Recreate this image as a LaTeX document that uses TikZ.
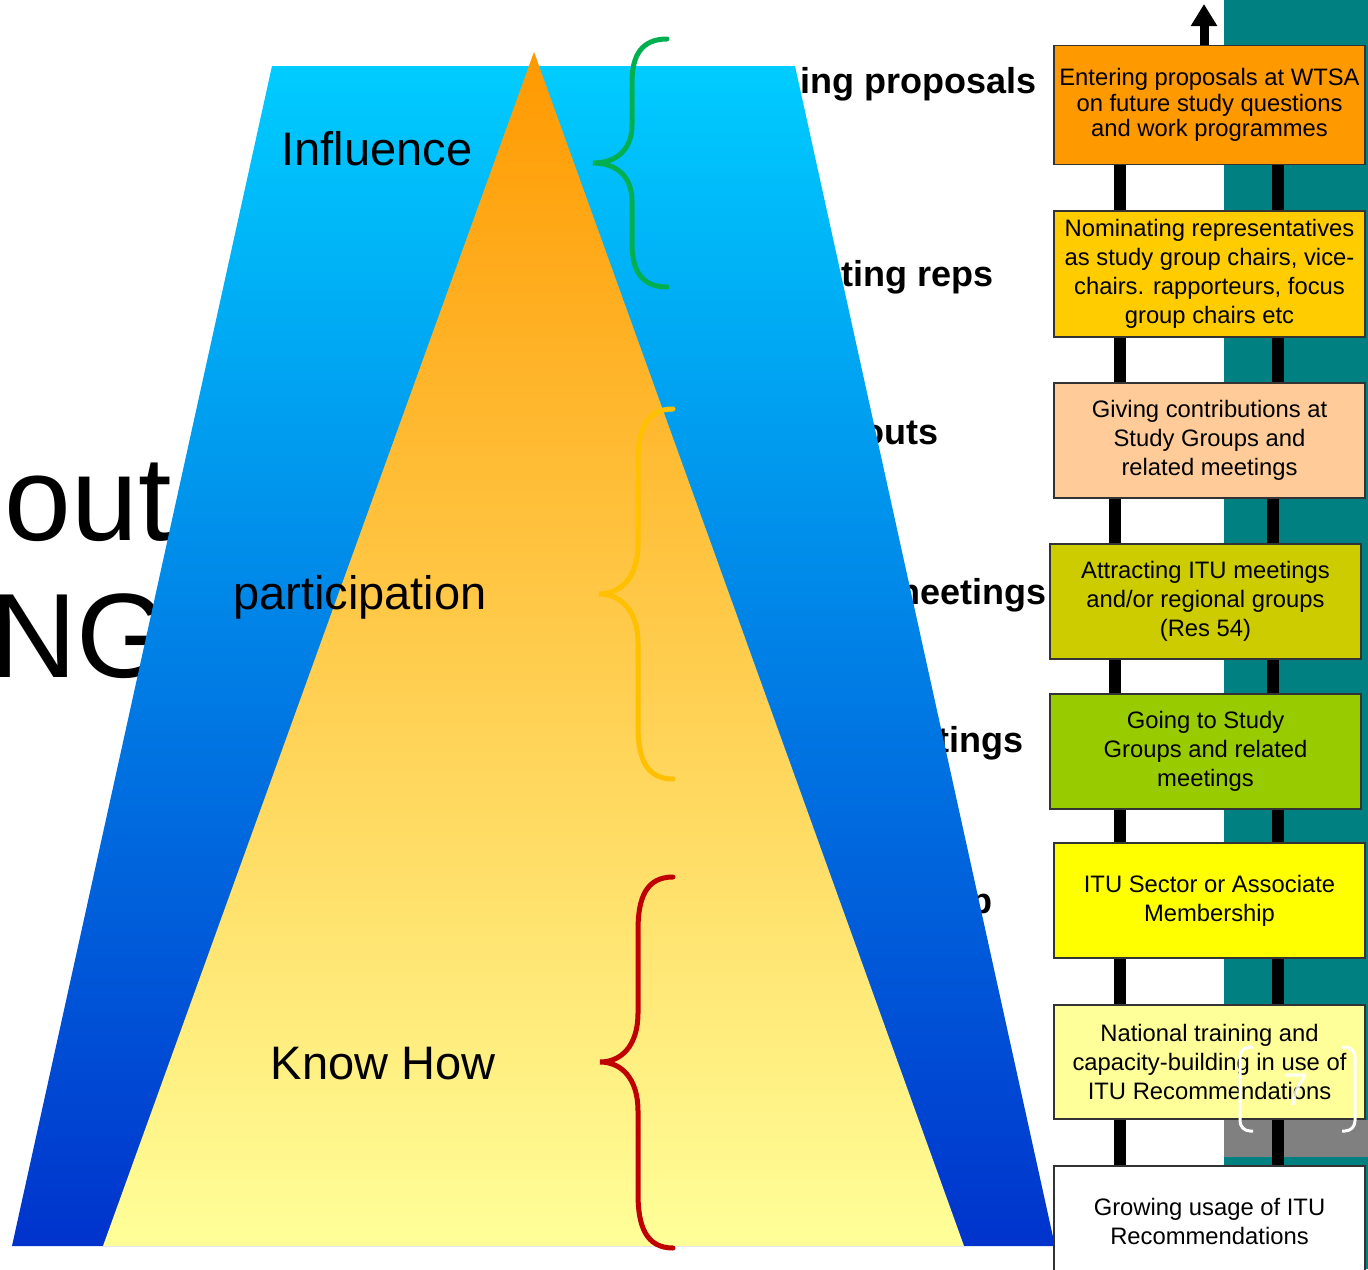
\documentclass[tikz,border=0pt]{standalone}
\usepackage{fontspec}
\setmainfont{Liberation Sans}
\usetikzlibrary{arrows.meta}

\definecolor{itucyan}{HTML}{00CCFF}
\definecolor{itublue}{HTML}{0033CC}
\definecolor{ituorange}{HTML}{FF9900}
\definecolor{itucream}{HTML}{FFFF99}
\definecolor{itugold}{HTML}{FFCC00}
\definecolor{itupeach}{HTML}{FFCC99}
\definecolor{ituolive}{HTML}{CCCC00}
\definecolor{itugreen}{HTML}{99CC00}
\definecolor{ituyellow}{HTML}{FFFF00}
\definecolor{ituteal}{HTML}{008080}
\definecolor{bracegreen}{HTML}{00B050}
\definecolor{braceyellow}{HTML}{FFC000}
\definecolor{bracered}{HTML}{C00000}

\tikzset{
  stagebox/.style={draw=black!80, line width=1.5pt, minimum width=311pt,
    align=center, inner sep=0pt, font=\fontsize{23.8}{29}\selectfont},
  ladder/.style={line width=12pt, black},
  cutword/.style={font=\fontsize{36}{40}\selectfont\bfseries, anchor=base east, inner sep=0pt},
  bigword/.style={font=\fontsize{120}{130}\selectfont, anchor=base west, inner sep=0pt},
  stagelabel/.style={font=\fontsize{47}{50}\selectfont, anchor=base, inner sep=0pt},
  bracepath/.style={line width=5pt, line cap=round},
}

\begin{document}
\begin{tikzpicture}[x=1pt,y=-1pt]
  \useasboundingbox (0,0) rectangle (1368,1269);
  %\draw[step=100pt,gray,very thin] (0,0) grid (1368,1269);

  %words behind the pyramid
  \node[bigword] (about) at (-62,540) {bout};
  \node[bigword] (ing) at (-10,677) {NG};
  \node[cutword] (proposals) at (1037,93) {ing proposals};
  \node[cutword] (reps) at (994,286) {ting reps};
  \node[cutword] (inputs) at (939,444) {outs};
  \node[cutword] (meetings) at (1047,604) {neetings};
  \node[cutword] (attending) at (1024,752) {tings};
  \node[cutword] (member) at (993,913) {p};

  %pyramid
  \shade[top color=itucyan, bottom color=itublue] (272,66) -- (795,66) -- (1055,1246) -- (12,1246) -- cycle;
  \shade[top color=ituorange, bottom color=itucream] (534,52) -- (964,1246) -- (103,1246) -- cycle;

  \node[stagelabel] (influence) at (377,165) {Influence};
  \node[stagelabel] (participation) at (360,609) {participation};
  \node[stagelabel] (knowhow) at (383,1079) {Know How};

  %braces
  \draw[bracepath, bracegreen] (667,39) .. controls (642,39) and (632,55) .. (632,82) -- (632,125)
    .. controls (632,150) and (616,163) .. (593,163) .. controls (616,163) and (632,176) .. (632,201)
    -- (632,244) .. controls (632,271) and (642,287) .. (667,287);
  \draw[bracepath, braceyellow] (673,409) .. controls (646,409) and (638,430) .. (638,462) -- (638,545)
    .. controls (638,578) and (620,594) .. (599,594) .. controls (620,594) and (638,610) .. (638,643)
    -- (638,726) .. controls (638,758) and (646,779) .. (673,779);
  \draw[bracepath, bracered] (673,877) .. controls (646,877) and (638,898) .. (638,930) -- (638,1013)
    .. controls (638,1046) and (621,1062) .. (600,1062) .. controls (621,1062) and (638,1078) .. (638,1111)
    -- (638,1194) .. controls (638,1226) and (646,1248) .. (673,1248);

  %ladder background
  \fill[ituteal] (1224,0) rectangle (1368,1269);
  \fill[gray] (1224,1120) rectangle (1368,1157);

  %stages
  \node[stagebox, fill=ituorange, minimum height=119pt, font=\fontsize{23.8}{25.5}\selectfont] (entering) at (1209.5,105)
    {Entering proposals at WTSA\\ on future study questions\\ and work programmes};
  \node[stagebox, fill=itugold, minimum height=126pt] (nominating) at (1209.5,274)
    {Nominating representatives\\ as study group chairs, vice-\\ chairs. rapporteurs, focus\\ group chairs etc};
  \node[stagebox, fill=itupeach, minimum height=115pt] (giving) at (1209.5,440.5)
    {Giving contributions at\\ Study Groups and\\ related meetings};
  \node[stagebox, fill=ituolive, minimum height=115pt] (attracting) at (1205.5,601.5)
    {Attracting ITU meetings\\ and/or regional groups\\ (Res 54)};
  \node[stagebox, fill=itugreen, minimum height=115pt] (going) at (1205.5,751.5)
    {Going to Study\\ Groups and related\\ meetings};
  \node[stagebox, fill=ituyellow, minimum height=115pt] (membership) at (1209.5,900.5)
    {ITU Sector or Associate\\ Membership};
  \node[stagebox, fill=itucream, minimum height=114pt] (training) at (1209.5,1062)
    {National training and\\ capacity-building in use of\\ ITU Recommendations};
  \node[stagebox, fill=white, minimum height=110pt] (usage) at (1209.5,1221)
    {Growing usage of ITU\\ Recommendations};

  %rails
  \coordinate (lx) at (1120,0);
  \coordinate (rx) at (1278,0);
  \coordinate (lxs) at (1115,0);
  \coordinate (rxs) at (1273,0);
  \coordinate (arrowtip) at (1204,4);
  \draw[ladder] (entering.south -| lx) -- (nominating.north -| lx);
  \draw[ladder] (entering.south -| rx) -- (nominating.north -| rx);
  \draw[ladder] (nominating.south -| lx) -- (giving.north -| lx);
  \draw[ladder] (nominating.south -| rx) -- (giving.north -| rx);
  \draw[ladder] (giving.south -| lxs) -- (attracting.north -| lxs);
  \draw[ladder] (giving.south -| rxs) -- (attracting.north -| rxs);
  \draw[ladder] (attracting.south -| lxs) -- (going.north -| lxs);
  \draw[ladder] (attracting.south -| rxs) -- (going.north -| rxs);
  \draw[ladder] (going.south -| lx) -- (membership.north -| lx);
  \draw[ladder] (going.south -| rx) -- (membership.north -| rx);
  \draw[ladder] (membership.south -| lx) -- (training.north -| lx);
  \draw[ladder] (membership.south -| rx) -- (training.north -| rx);
  \draw[ladder] (training.south -| lx) -- (usage.north -| lx);
  \draw[ladder] (training.south -| rx) -- (usage.north -| rx);
  \draw[line width=9pt, -{Triangle[width=25pt,length=22pt]}] (entering.north -| arrowtip) -- (arrowtip);

  %slide number
  \draw[white, line width=3pt, rounded corners=10pt] (1253,1047) -- (1240,1047) -- (1240,1131) -- (1253,1131);
  \draw[white, line width=3pt, rounded corners=10pt] (1342,1047) -- (1355,1047) -- (1355,1131) -- (1342,1131);
  \node[white, opacity=0.85, font=\fontsize{46}{46}\selectfont, inner sep=0pt] (slideno) at (1296,1090) {7};

\end{tikzpicture}
\end{document}
